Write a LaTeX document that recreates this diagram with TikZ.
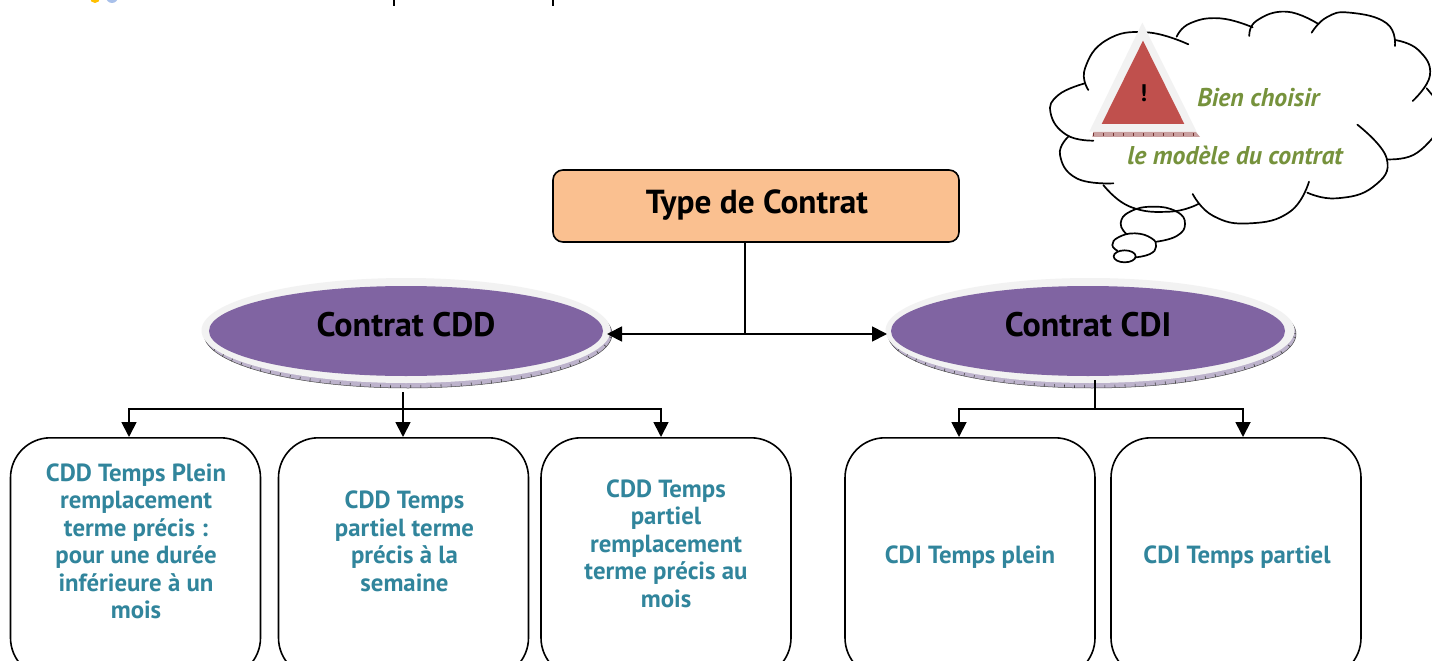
\documentclass[tikz,border=0pt]{standalone}
\usepackage{fontspec}
\setmainfont{PT Sans}
\usetikzlibrary{arrows.meta,shapes.geometric,calc}
\definecolor{teal1}{HTML}{31859C}
\definecolor{green1}{HTML}{76923C}
\definecolor{purp}{HTML}{8064A2}
\definecolor{rim}{HTML}{F2F2F2}
\definecolor{bev}{HTML}{BDB3CC}
\definecolor{redt}{HTML}{C0504D}
\definecolor{orng}{HTML}{FAC090}
\definecolor{strip}{HTML}{C9A0A0}
\definecolor{dotyel}{HTML}{FFC000}
\definecolor{dotblu}{HTML}{A8C0EA}
\tikzset{
 leaf/.style={draw=black,line width=1.6pt,rounded corners=40pt,minimum width=250pt,minimum height=240pt,inner sep=0pt,anchor=north,fill=white},
 leaftext/.style={text=teal1,font=\fontsize{24.8}{27.5}\selectfont\bfseries,align=center,inner sep=0pt},
 oval/.style={ellipse,fill=purp,minimum width=394pt,minimum height=90pt,inner sep=0pt},
 ovaltext/.style={font=\fontsize{34}{38}\selectfont\bfseries,text=black,inner sep=0pt},
 conn/.style={draw=black,line width=1.8pt},
 arr/.style={conn,-{Triangle[length=15pt,width=15pt]}},
 arrb/.style={conn,{Triangle[length=15pt,width=15pt]}-{Triangle[length=15pt,width=15pt]}},
 cloudl/.style={draw=black,line width=1.7pt,line cap=round},
 say/.style={text=green1,font=\fontsize{25.7}{30}\selectfont\bfseries\itshape,inner sep=0pt},
}
\newcommand{\ovalbase}[1]{%
 \fill[bev] ($(#1,334)$) ellipse [x radius=204pt,y radius=54pt];
 \draw[black!70,line width=.5pt] ($(#1,334)$) ellipse [x radius=204pt,y radius=54pt];
 \draw[black!75,line width=3pt,dash pattern=on .6pt off 9.5pt] ($(#1,334)$) ellipse [x radius=202.5pt,y radius=52.5pt];
 \fill[rim] ($(#1-2,330.5)$) ellipse [x radius=204.5pt,y radius=52.5pt];
}
\begin{document}
\begin{tikzpicture}[x=1pt,y=-1pt]
\useasboundingbox (0,0) rectangle (1432,661);
\clip (0,0) rectangle (1432,661);
\fill[white] (0,0) rectangle (1432,661);
% remnants at top edge
\fill[dotyel] (95,-2) circle (5pt);
\fill[dotblu] (112,-3) circle (6pt);
\draw[black,line width=2pt] (394,0) -- (394,6);
\draw[black,line width=2pt] (553,0) -- (553,6);
% cloud
\begin{scope}[shift={(1030,0)},x=.33333pt,y=-.33333pt]
 \draw[cloudl] plot[smooth,tension=.8] coordinates {(475,133)(350,97)(230,120)(165,205)(175,270)};
 \draw[cloudl] plot[smooth,tension=.8] coordinates {(165,250)(85,285)(62,340)(110,405)(190,422)};
 \draw[cloudl] plot[smooth,tension=.8] coordinates {(115,410)(90,465)(140,535)(250,550)};
 \draw[cloudl] plot[smooth,tension=.8] coordinates {(220,555)(300,620)(420,635)(505,612)};
 \draw[cloudl] plot[smooth,tension=.8] coordinates {(488,582)(550,648)(660,670)(780,635)(837,545)};
 \draw[cloudl] plot[smooth,tension=.8] coordinates {(832,578)(920,595)(1030,560)(1070,475)(982,374)};
 \draw[cloudl] plot[smooth,tension=.8] coordinates {(1070,478)(1150,465)(1215,405)};
 \draw[cloudl] plot[smooth,tension=.8] coordinates {(1148,303)(1200,225)(1165,150)(1095,120)};
 \draw[cloudl] plot[smooth,tension=.8] coordinates {(1095,138)(1070,70)(960,38)(890,52)(845,98)};
 \draw[cloudl] plot[smooth,tension=.8] coordinates {(865,72)(770,35)(680,62)(658,108)};
 \draw[cloudl] plot[smooth,tension=.8] coordinates {(668,82)(570,55)(480,70)(440,110)};
 \draw[cloudl] (1190,265) -- (1215,295);
 % thought bubbles
 \draw[cloudl] plot[smooth,tension=.8] coordinates {(290,703)(272,670)(300,635)(370,620)(440,635)(465,672)(440,708)(380,725)};
 \draw[cloudl] plot[smooth,tension=.8] coordinates {(262,752)(247,735)(265,712)(315,700)(365,715)(378,740)(360,762)(318,772)};
 \draw[cloudl] (284,769) ellipse [x radius=33,y radius=18];
 % warning triangle
 \fill[strip] (190,395) -- (497,395) -- (510,411) -- (187,411) -- cycle;
 \draw[redt!60!black,line width=3.5pt,dash pattern=on .5pt off 9.5pt] (190,403) -- (507,403);
 \fill[rim] (337,68) -- (178,395) -- (500,395) -- cycle;
 \fill[redt] (339,122) -- (215,372) -- (463,372) -- cycle;
 \node[font=\fontsize{24}{26}\selectfont\bfseries,inner sep=0pt] (warn) at (341,280) {!};
 \node[say] (say1) at (685,293) {Bien choisir};
 \node[say] (say2) at (615,466) {le modèle du contrat};
\end{scope}
% top box
\node[draw=black,line width=1.6pt,fill=orng,rounded corners=10pt,minimum width=406pt,minimum height=72pt,inner sep=0pt] (type) at (756,206) {};
\node[ovaltext,font=\fontsize{33.3}{38}\selectfont\bfseries] (typet) at (757,205) {Type de Contrat};
% ovals
\ovalbase{408}
\ovalbase{1092}
\node[oval] (cdd) at (406,331) {};
\node[oval] (cdi) at (1088,331) {};
\node[ovaltext] (cddt) at (406,325) {Contrat CDD};
\node[ovaltext] (cdit) at (1088,325) {Contrat CDI};
% leaves
\node[leaf] (a) at (135.5,437) {};
\node[leaf] (b) at (403.5,437) {};
\node[leaf] (c) at (666,437) {};
\node[leaf] (d) at (970,437) {};
\node[leaf] (e) at (1236,437) {};
\node[leaftext] (at) at (136,541.5) {CDD Temps Plein\\remplacement\\terme précis :\\pour une durée\\inférieure à un\\mois};
\node[leaftext] (bt) at (404.5,541.5) {CDD Temps\\partiel terme\\précis à la\\semaine};
\node[leaftext] (ct) at (666,543.5) {CDD Temps\\partiel\\remplacement\\terme précis au\\mois};
\node[leaftext] (dt) at (970,557.5) {CDI Temps plein};
\node[leaftext] (et) at (1237,557.5) {CDI Temps partiel};
% connectors
\coordinate (top) at (745,334);
\coordinate (l) at (607,334);
\coordinate (r) at (887,334);
\draw[conn] (745,242) -- (top);
\draw[arrb] (l) -- (r);
\coordinate (j1) at (403,409);
\coordinate (j2) at (1095,409);
\draw[arr] (403,392) -- (403,437);
\draw[arr] (j1) -| (129,437);
\draw[arr] (j1) -| (661,437);
\draw[conn] (1095,380) -- (j2);
\draw[arr] (j2) -| (959,437);
\draw[arr] (j2) -| (1243,437);
\end{tikzpicture}
\end{document}
